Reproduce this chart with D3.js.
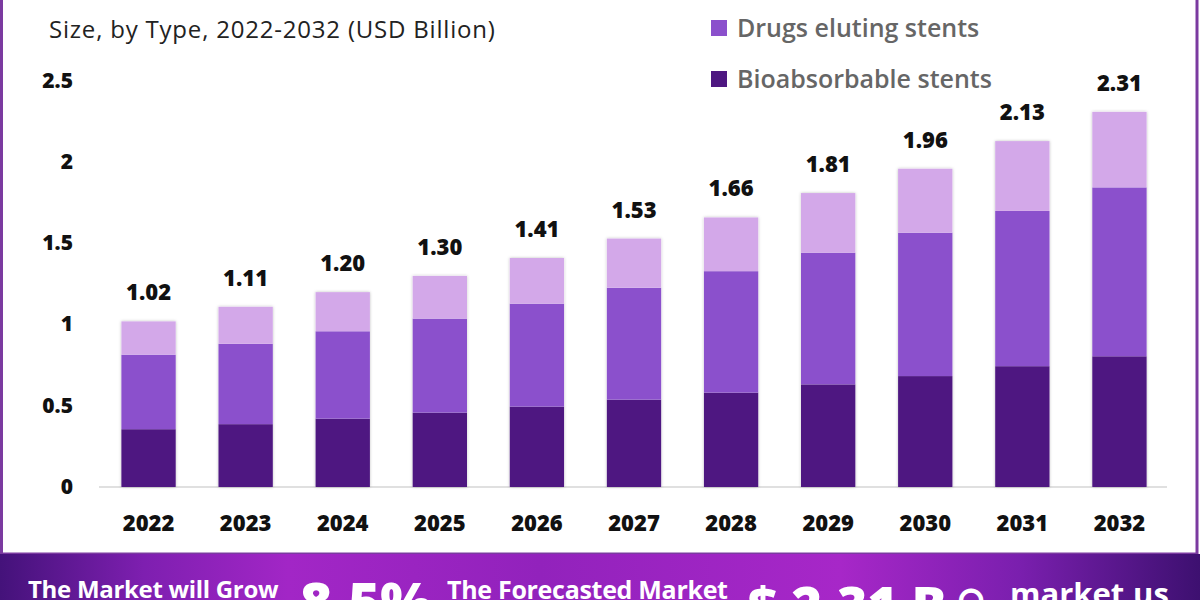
<!DOCTYPE html>
<html>
<head>
<meta charset="utf-8">
<script src="https://cdn.jsdelivr.net/npm/d3@7"></script>
<style>
  html, body { margin: 0; padding: 0; background: #ffffff; }
  svg { display: block; }
</style>
</head>
<body>
<svg id="chart" width="1200" height="600"></svg>
<script>
// ---- data ----
const years = ["2022","2023","2024","2025","2026","2027","2028","2029","2030","2031","2032"];
const bioabsorbable = [0.356, 0.387, 0.421, 0.458, 0.495, 0.538, 0.581, 0.632, 0.683, 0.744, 0.805];
const drugsEluting  = [0.459, 0.495, 0.538, 0.579, 0.634, 0.689, 0.748, 0.811, 0.883, 0.956, 1.040];
const others        = [0.205, 0.228, 0.241, 0.263, 0.281, 0.303, 0.331, 0.367, 0.394, 0.430, 0.465];
const totalLabels   = ["1.02","1.11","1.20","1.30","1.41","1.53","1.66","1.81","1.96","2.13","2.31"];
const yTicks        = [0, 0.5, 1, 1.5, 2, 2.5];
const seriesNames   = ["Bioabsorbable stents", "Drugs eluting stents", "Others"];
const legendNames   = ["Drugs eluting stents", "Bioabsorbable stents"];
const colors        = {"Bioabsorbable stents": "#4E1781", "Drugs eluting stents": "#8B50CC", "Others": "#D3A8E9"};

const rows = years.map((y, i) => ({
  year: y,
  "Bioabsorbable stents": bioabsorbable[i],
  "Drugs eluting stents": drugsEluting[i],
  "Others": others[i],
  label: totalLabels[i]
}));
const total = d => d["Bioabsorbable stents"] + d["Drugs eluting stents"] + d["Others"];

const svg = d3.select("#chart");
const FONT = "'Open Sans', 'DejaVu Sans', sans-serif";

// defs
const defs = svg.append("defs");
const grad = defs.append("linearGradient").attr("id", "banner").attr("x1", "0%").attr("x2", "100%");
[[0, "#44127A"], [0.12, "#7E1FB0"], [0.24, "#A226C6"], [0.45, "#9222BC"], [0.7, "#A727C8"], [0.85, "#7A1FAE"], [1, "#3D1070"]]
  .forEach(([o, c]) => grad.append("stop").attr("offset", o).attr("stop-color", c));
const shadow = defs.append("filter").attr("id", "shadow").attr("x", "-20%").attr("y", "-5%").attr("width", "140%").attr("height", "110%");
shadow.append("feDropShadow").attr("dx", 0).attr("dy", 0).attr("stdDeviation", 1.5).attr("flood-color", "#000").attr("flood-opacity", 0.25);

// frame
svg.append("rect").attr("x", 1.5).attr("y", -4).attr("width", 1195.5).attr("height", 558)
  .attr("fill", "#fff").attr("stroke", "#7B3AA0").attr("stroke-width", 3);

// scales
const x = d3.scaleBand().domain(years).range([100, 1168]).paddingInner(0.44).paddingOuter(0.22);
const y = d3.scaleLinear().domain([0, 2.5]).range([487, 81]);

// baseline
svg.append("line").attr("x1", 99).attr("x2", 1167).attr("y1", y(0)).attr("y2", y(0))
  .attr("stroke", "#d6d6d6").attr("stroke-width", 1.5);

// stacked bars
const stack = d3.stack().keys(seriesNames)(rows);
const gBars = svg.append("g");
gBars.selectAll("rect.shadowbar").data(rows).join("rect")
  .attr("x", d => x(d.year)).attr("width", x.bandwidth())
  .attr("y", d => y(total(d)))
  .attr("height", d => y(0) - y(total(d)))
  .attr("fill", "#fff").attr("filter", "url(#shadow)");
stack.forEach(layer => {
  gBars.append("g").selectAll("rect").data(layer).join("rect")
    .attr("x", d => x(d.data.year))
    .attr("width", x.bandwidth())
    .attr("y", d => y(d[1]))
    .attr("height", d => y(d[0]) - y(d[1]))
    .attr("fill", colors[layer.key]);
});

// total labels
svg.append("g").selectAll("text").data(rows).join("text")
  .attr("x", d => x(d.year) + x.bandwidth() / 2)
  .attr("y", d => y(total(d)) - 21)
  .attr("text-anchor", "middle")
  .attr("font-family", FONT).attr("font-weight", 800).attr("font-size", 22).attr("fill", "#111")
  .text(d => d.label);

// y axis
const yAxis = d3.axisLeft(y).tickValues(yTicks).tickSize(0).tickPadding(0).tickFormat(d3.format(""));
const gy = svg.append("g").attr("transform", "translate(73,0)").call(yAxis);
gy.select(".domain").remove();
gy.selectAll("text").attr("font-family", FONT).attr("font-weight", 800).attr("font-size", 21).attr("fill", "#111").attr("dy", "0.3em");

// x axis
const xAxis = d3.axisBottom(x).tickSize(0).tickPadding(0);
const gx = svg.append("g").attr("transform", "translate(0,523)").call(xAxis);
gx.select(".domain").remove();
gx.selectAll("text").attr("font-family", FONT).attr("font-weight", 800).attr("font-size", 22).attr("fill", "#111").attr("dy", "0.35em");

// title
svg.append("text").attr("x", 49).attr("y", 38)
  .attr("font-family", FONT).attr("font-size", 24).attr("letter-spacing", 0.8).attr("fill", "#222")
  .text("Size, by Type, 2022-2032 (USD Billion)");

// legend
const legend = svg.append("g");
legendNames.forEach((name, i) => {
  const ly = 28 + i * 51;
  legend.append("rect").attr("x", 711).attr("y", ly - 8).attr("width", 16).attr("height", 16).attr("fill", colors[name]);
  legend.append("text").attr("x", 737).attr("y", ly).attr("dy", "0.35em")
    .attr("font-family", FONT).attr("font-weight", 600).attr("font-size", 25).attr("fill", "#666")
    .text(name);
});

// banner
svg.append("rect").attr("x", 0).attr("y", 554).attr("width", 1200).attr("height", 46).attr("fill", "url(#banner)");
const bt = svg.append("g").attr("font-family", FONT).attr("fill", "#fff").attr("font-weight", 700);
bt.append("text").attr("x", 28).attr("y", 598).attr("font-size", 24).attr("letter-spacing", -0.3).text("The Market will Grow");
bt.append("text").attr("x", 300).attr("y", 622).attr("font-size", 55).attr("font-weight", 800).text("8.5%");
bt.append("text").attr("x", 447).attr("y", 599).attr("font-size", 25).attr("letter-spacing", -0.3).text("The Forecasted Market");
bt.append("text").attr("x", 748).attr("y", 624).attr("font-size", 52).attr("font-weight", 800).text("$ 2.31 B");
bt.append("text").attr("x", 956).attr("y", 612).attr("font-size", 40).attr("font-weight", 800).text("ഠ");
bt.append("text").attr("x", 1010).attr("y", 605).attr("font-size", 31).text("market.us");
</script>
</body>
</html>
